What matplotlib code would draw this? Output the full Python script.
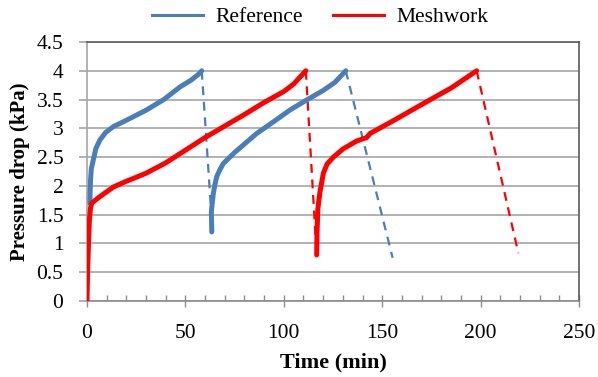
import matplotlib
matplotlib.use("Agg")
import matplotlib.pyplot as plt
from matplotlib.ticker import MultipleLocator
from matplotlib.lines import Line2D

plt.rcParams['font.family'] = ['Liberation Serif', 'DejaVu Serif']

# Reference filter: two loading cycles (solid) and cleaning drops (dashed)
ref_t1 = [1.5, 1.6, 1.8, 2.2, 3.2, 4.5, 6.6, 9.5, 13.4, 20, 30.3, 39, 47.3, 53, 57.4, 58.3]
ref_p1 = [1.70, 1.90, 2.10, 2.30, 2.45, 2.65, 2.80, 2.93, 3.03, 3.14, 3.32, 3.50, 3.72, 3.84, 3.96, 4.00]
ref_t2 = [63.4, 63.2, 63.8, 64.2, 65.0, 65.9, 67.5, 69.3, 75, 86.2, 95, 103.2, 112, 120.1, 126, 131.5]
ref_p2 = [1.20, 1.55, 1.75, 1.87, 2.02, 2.16, 2.28, 2.39, 2.58, 2.91, 3.12, 3.32, 3.50, 3.66, 3.80, 4.00]
ref_drop1_t = [58.3, 63.7]
ref_drop1_p = [4.00, 1.25]
ref_drop2_t = [131.5, 155.3]
ref_drop2_p = [4.00, 0.75]

# Meshwork filter
mesh_t1 = [0.0, 0.3, 0.7, 1.2, 1.8, 2.4, 6, 13.4, 20, 30, 40, 50, 60, 70, 80, 90, 100, 105, 111.2]
mesh_p1 = [0.00, 0.50, 0.94, 1.40, 1.62, 1.70, 1.80, 1.98, 2.08, 2.22, 2.40, 2.62, 2.84, 3.04, 3.24, 3.45, 3.64, 3.77, 4.00]
mesh_t2 = [116.7, 116.9, 117.3, 118.4, 120.1, 122, 125.2, 130, 137, 142.1, 143.8, 155, 170.9, 185, 198.0]
mesh_p2 = [0.80, 1.20, 1.60, 1.90, 2.22, 2.38, 2.50, 2.64, 2.78, 2.84, 2.91, 3.12, 3.43, 3.70, 4.00]
mesh_drop1_t = [111.2, 116.5]
mesh_drop1_p = [4.00, 0.90]
mesh_drop2_t = [198.0, 219.2]
mesh_drop2_p = [4.00, 0.83]

series_names = ['Reference', 'Meshwork']

blue = '#4a7ebb'
red = '#ff0000'

fig = plt.figure(figsize=(5.98, 3.77), dpi=100)
ax = fig.add_axes([87/598, 1 - 301/377, (579 - 87)/598, (301 - 42)/377])

solid_lw = 3.6
dash_lw = 1.6
dash = (0, (4, 3))
ax.plot(ref_t1, ref_p1, color=blue, lw=solid_lw, solid_capstyle='round', zorder=3)
ax.plot(ref_t2, ref_p2, color=blue, lw=solid_lw, solid_capstyle='round', zorder=3)
ax.plot(ref_drop1_t, ref_drop1_p, color=blue, lw=dash_lw, ls=dash, zorder=2)
ax.plot(ref_drop2_t, ref_drop2_p, color=blue, lw=dash_lw, ls=dash, zorder=2)

ax.plot(mesh_t1, mesh_p1, color=red, lw=solid_lw, solid_capstyle='round', zorder=3)
ax.plot(mesh_t2, mesh_p2, color=red, lw=solid_lw, solid_capstyle='round', zorder=3)
ax.plot(mesh_drop1_t, mesh_drop1_p, color=red, lw=dash_lw, ls=dash, zorder=2)
ax.plot(mesh_drop2_t, mesh_drop2_p, color=red, lw=dash_lw, ls=dash, zorder=2)

ax.set_xlim(0, 250)
ax.set_ylim(0, 4.5)
ax.xaxis.set_major_locator(MultipleLocator(50))
ax.xaxis.set_minor_locator(MultipleLocator(10))
ax.set_yticks([0, 0.5, 1, 1.5, 2, 2.5, 3, 3.5, 4, 4.5])
ax.set_yticklabels(['0', '0.5', '1', '1.5', '2', '2.5', '3', '3.5', '4', '4.5'])

ax.grid(axis='y', color='#a6a6a6', lw=1.2, zorder=0)
ax.set_axisbelow(True)

grid_gray = '#a6a6a6'
ax.spines['left'].set_color(grid_gray)
ax.spines['bottom'].set_color('#8c8c8c')
ax.spines['top'].set_color('#5a5a5a')
ax.spines['right'].set_color('#5a5a5a')
for s in ax.spines.values():
    s.set_linewidth(1.2)

ax.tick_params(axis='y', which='major', direction='out', length=6, color=grid_gray,
               width=1.2, labelsize=15.5, pad=11)
ax.tick_params(axis='x', which='major', direction='inout', length=9, color='#8c8c8c',
               width=1.0, labelsize=15.5, pad=12)
ax.tick_params(axis='x', which='minor', direction='in', length=4, color='#8c8c8c', width=1.0)

ax.set_xlabel('Time (min)', fontsize=16, fontweight='bold', labelpad=7)
ax.set_ylabel('Pressure drop (kPa)', fontsize=15, fontweight='bold', labelpad=5)

handles = [Line2D([], [], color=blue, lw=2.2), Line2D([], [], color=red, lw=2.2)]
fig.legend(handles, series_names, loc='center', bbox_to_anchor=(320/598, 1 - 17/377),
           ncol=2, frameon=False, fontsize=15.5, handlelength=2.4,
           columnspacing=1.4, handletextpad=0.55)

fig.savefig('out.png', dpi=100)
